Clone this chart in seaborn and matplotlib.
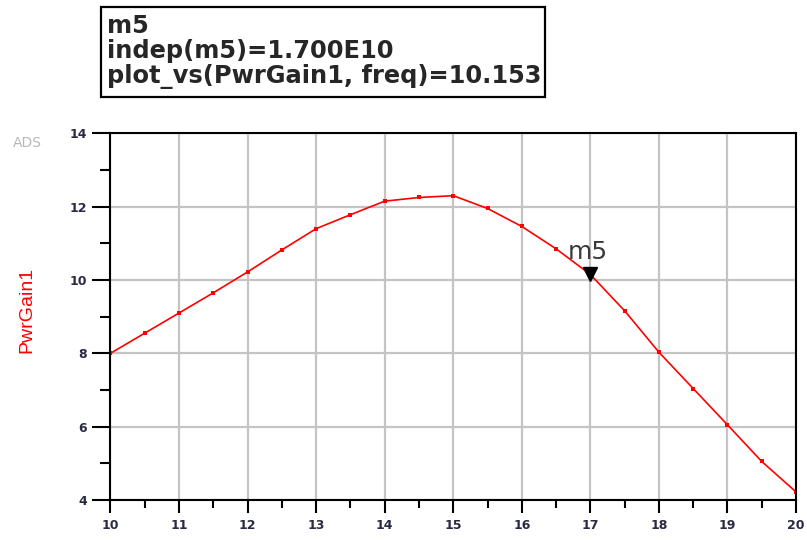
import matplotlib
matplotlib.use("Agg")
import matplotlib.pyplot as plt
import seaborn as sns
import pandas as pd
from matplotlib.ticker import MultipleLocator
from matplotlib.patches import Rectangle

freq = [10, 10.5, 11, 11.5, 12, 12.5, 13, 13.5, 14, 14.5, 15, 15.5, 16,
        16.5, 17, 17.5, 18, 18.5, 19, 19.5, 20]
gain = [8.00, 8.55, 9.10, 9.65, 10.22, 10.82, 11.40, 11.78, 12.15, 12.25,
        12.30, 11.95, 11.46, 10.85, 10.15, 9.16, 8.03, 7.04, 6.05, 5.05, 4.22]
marker_x = [17.0]
marker_y = [10.153]
marker_name = "m5"
box_lines = ["m5", "indep(m5)=1.700E10", "plot_vs(PwrGain1, freq)=10.153"]
xticks = list(range(10, 21))
yticks = [4, 6, 8, 10, 12, 14]

df = pd.DataFrame({"freq": freq, "PwrGain1": gain})

sns.set_theme(style="white")
plt.rcParams["font.family"] = ["DejaVu Sans"]

fig = plt.figure(figsize=(8.07, 5.40), dpi=100)
ax = fig.add_axes([0.1369, 0.0741, 0.9864 - 0.1369, 0.7531 - 0.0741])

sns.lineplot(data=df, x="freq", y="PwrGain1", ax=ax, color="red",
             linewidth=1.2, marker="s", markersize=2.5, markeredgewidth=0)

ax.plot(marker_x, marker_y, marker="v", color="black", markersize=10,
        linestyle="none", zorder=5)
ax.annotate(marker_name, (marker_x[0], marker_y[0]), xytext=(-2, 11),
            textcoords="offset points", ha="center", va="baseline",
            fontsize=18, color="#3a3a3a")

ax.set_xlim(10, 20)
ax.set_ylim(4, 14)
ax.set_xticks(xticks)
ax.set_yticks(yticks)
ax.xaxis.set_minor_locator(MultipleLocator(0.5))
ax.yaxis.set_minor_locator(MultipleLocator(1))
ax.grid(True, which="major", color="#c4c4c4", linewidth=1.6)
ax.set_axisbelow(True)
ax.tick_params(axis="x", which="major", direction="out", length=9.4,
               width=1.5, color="black", bottom=True, pad=4)
ax.tick_params(axis="x", which="minor", direction="out", length=5.8,
               width=1.5, color="black", bottom=True)
ax.tick_params(axis="y", which="major", direction="out", length=13,
               width=1.5, color="black", left=True, pad=4)
ax.tick_params(axis="y", which="minor", direction="out", length=7.2,
               width=1.5, color="black", left=True)
for lab in ax.get_xticklabels() + ax.get_yticklabels():
    lab.set_fontsize(9)
    lab.set_fontweight("bold")
    lab.set_color("#2a2a44")
for s in ax.spines.values():
    s.set_visible(True)
    s.set_color("black")
    s.set_linewidth(1.5)

ax.set_xlabel("")
ax.set_ylabel("")
fig.text(27 / 807, 1 - 310 / 540, "PwrGain1", rotation=90, color="red",
         fontsize=14, family=["Liberation Sans", "DejaVu Sans"],
         ha="center", va="center")

fig.text(13 / 807, 1 - 143 / 540, "ADS", fontsize=10,
         color="#b8b8b8", ha="left", va="center")

# marker readout box
fig.patches.append(Rectangle((101 / 807, 1 - 97 / 540), (545 - 101) / 807,
                             (97 - 7) / 540, transform=fig.transFigure,
                             fill=False, edgecolor="black", linewidth=1.6))
for i, line in enumerate(box_lines):
    fig.text(107 / 807, 1 - (33 + 25 * i) / 540, line, fontsize=17.4,
             fontweight="bold", color="#262626", ha="left", va="baseline")

fig.savefig("out.png", dpi=100)
